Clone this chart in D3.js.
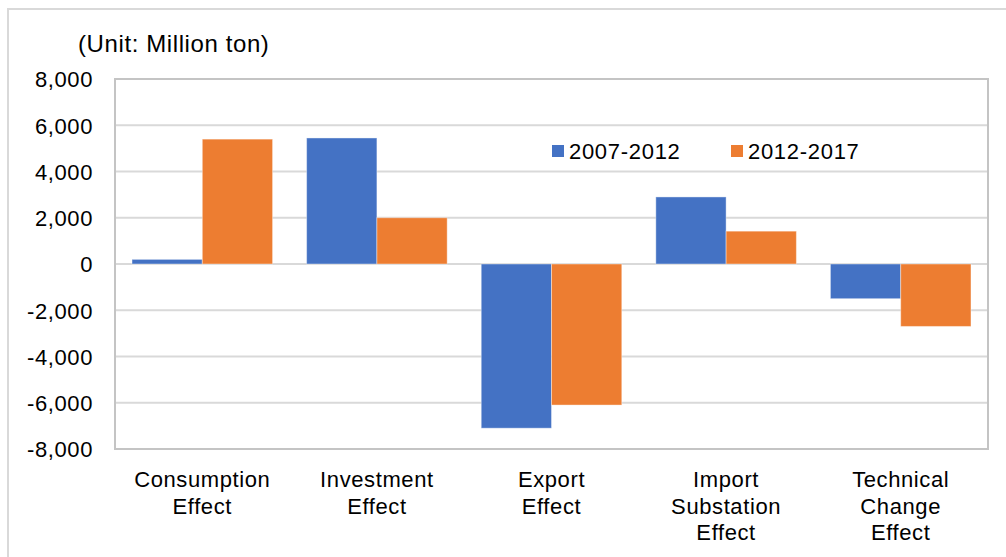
<!DOCTYPE html>
<html>
<head>
<meta charset="utf-8">
<script src="https://cdn.jsdelivr.net/npm/d3@7"></script>
<style>
  body { margin: 0; background: #fff; }
  text { font-family: "Liberation Sans", Arial, sans-serif; fill: #000; }
</style>
</head>
<body>
<svg id="chart"></svg>
<script>
var categories = [["Consumption", "Effect"], ["Investment", "Effect"], ["Export", "Effect"],
                  ["Import", "Substation", "Effect"], ["Technical", "Change", "Effect"]];
var seriesNames = ["2007-2012", "2012-2017"];
var values2007 = [200, 5450, -7100, 2900, -1500];
var values2012 = [5400, 2000, -6100, 1420, -2700];
var yTicks = [-8000, -6000, -4000, -2000, 0, 2000, 4000, 6000, 8000];
var colors = ["#4472C4", "#ED7D31"];

var svg = d3.select("#chart")
    .attr("width", 1006)
    .attr("height", 557);

// outer chart frame
svg.append("rect")
    .attr("x", 8).attr("y", 9)
    .attr("width", 1010).attr("height", 560)
    .attr("fill", "none")
    .attr("stroke", "#d9d9d9")
    .attr("stroke-width", 2);

var plot = { left: 115, right: 988, top: 79, bottom: 449 };

var xScale = d3.scaleBand()
    .domain(d3.range(categories.length))
    .range([plot.left, plot.right])
    .paddingInner(0.195)
    .paddingOuter(0.0975);

var xSub = d3.scaleBand()
    .domain([0, 1])
    .range([0, xScale.bandwidth()]);

var yScale = d3.scaleLinear()
    .domain([-8000, 8000])
    .range([plot.bottom, plot.top]);

// gridlines
svg.append("g").selectAll("line")
    .data(yTicks)
    .enter().append("line")
    .attr("x1", plot.left).attr("x2", plot.right)
    .attr("y1", function (d) { return yScale(d); })
    .attr("y2", function (d) { return yScale(d); })
    .attr("stroke", "#d9d9d9")
    .attr("stroke-width", 2);

// plot area border
svg.append("rect")
    .attr("x", plot.left).attr("y", plot.top)
    .attr("width", plot.right - plot.left)
    .attr("height", plot.bottom - plot.top)
    .attr("fill", "none")
    .attr("stroke", "#c4c4c4")
    .attr("stroke-width", 2);

// y tick labels (plain hyphen for negatives, like Excel)
var fmt = d3.format(",");
var yAxis = d3.axisLeft(yScale)
    .tickValues(yTicks)
    .tickSize(0)
    .tickPadding(22)
    .tickFormat(function (d) { return fmt(d).replace("\u2212", "-"); });

svg.append("g")
    .attr("transform", "translate(" + plot.left + ",0)")
    .call(yAxis)
    .call(function (g) { g.select(".domain").remove(); })
    .selectAll("text")
    .style("font-family", "Liberation Sans, Arial, sans-serif")
    .style("font-size", "22px")
    .style("letter-spacing", "0.6px")
    .attr("dy", "0.36em");

// bars
var series = [values2007, values2012];
series.forEach(function (vals, s) {
    svg.append("g").selectAll("rect")
        .data(vals)
        .enter().append("rect")
        .attr("x", function (d, i) { return xScale(i) + xSub(s); })
        .attr("width", xSub.bandwidth())
        .attr("y", function (d) { return yScale(Math.max(0, d)); })
        .attr("height", function (d) { return Math.abs(yScale(d) - yScale(0)); })
        .attr("fill", colors[s])
        .attr("stroke", "#ffffff")
        .attr("stroke-opacity", 0.4)
        .attr("stroke-width", 1);
});

// category labels
var catLabels = svg.append("g").selectAll("text")
    .data(categories)
    .enter().append("text")
    .attr("x", function (d, i) { return xScale(i) + xScale.bandwidth() / 2; })
    .attr("y", 487)
    .attr("text-anchor", "middle")
    .style("font-size", "22px")
    .style("letter-spacing", "0.6px");

catLabels.selectAll("tspan")
    .data(function (d) { return d; })
    .enter().append("tspan")
    .attr("x", function () { return d3.select(this.parentNode).attr("x"); })
    .attr("dy", function (d, i) { return i === 0 ? 0 : 26.5; })
    .text(function (d) { return d; });

// unit label
svg.append("text")
    .attr("x", 78).attr("y", 52)
    .style("font-size", "24px")
    .style("letter-spacing", "0.6px")
    .text("(Unit: Million ton)");

// legend
var legendX = [552, 731];
var legend = svg.append("g").selectAll("g")
    .data(seriesNames)
    .enter().append("g")
    .attr("transform", function (d, i) { return "translate(" + legendX[i] + ",145)"; });

legend.append("rect")
    .attr("width", 12).attr("height", 12)
    .attr("fill", function (d, i) { return colors[i]; });

legend.append("text")
    .attr("x", 17).attr("y", 13.5)
    .style("font-size", "22px")
    .style("letter-spacing", "0.7px")
    .text(function (d) { return d; });
</script>
</body>
</html>
